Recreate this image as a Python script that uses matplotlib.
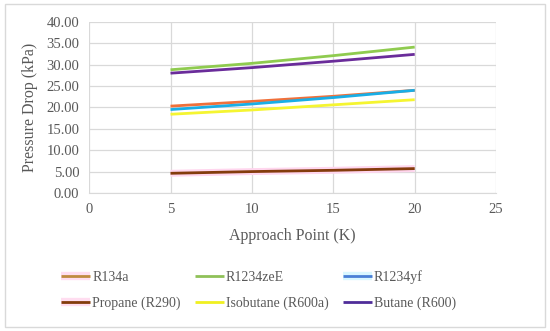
import matplotlib
matplotlib.use("Agg")
import matplotlib.pyplot as plt
import matplotlib.patheffects as pe
from matplotlib.patches import Rectangle
from matplotlib.lines import Line2D

approach = [5, 10, 15, 20]
r134a = [20.3, 21.4, 22.6, 24.0]
r1234zee = [28.8, 30.3, 32.1, 34.1]
r1234yf = [19.5, 20.8, 22.3, 24.0]
propane = [4.6, 5.0, 5.3, 5.7]
isobutane = [18.4, 19.4, 20.6, 21.8]
butane = [28.0, 29.3, 30.8, 32.4]

# name, values, line colour, legend colour, glow colour (plot), glow colour (legend)
series = [
    ("R134a", r134a, "#F0703A", "#C08A40", None, "#FFDDF0"),
    ("R1234zeE", r1234zee, "#8FCB4F", "#8FC158", None, None),
    ("R1234yf", r1234yf, "#19AEE6", "#4A80D6", None, "#D9F7FF"),
    ("Propane (R290)", propane, "#843C0C", "#843C0C", "#FFD6EE", "#FFDDF0"),
    ("Isobutane (R600a)", isobutane, "#F5F531", "#F0F020", None, None),
    ("Butane (R600)", butane, "#6A2C9A", "#4F2D99", None, None),
]

plt.rcParams['font.family'] = ['Liberation Serif', 'DejaVu Serif']

fig = plt.figure(figsize=(5.5, 3.31), dpi=100)
fig.patches.append(Rectangle((0.009, 0.012), 0.982, 0.976, transform=fig.transFigure,
                             fill=False, edgecolor='#D9D9D9', linewidth=1))
ax = fig.add_axes([0.162, 0.417, 0.74, 0.517])

handles = []
for name, vals, color, leg_color, glow, leg_glow in series:
    effects = []
    if glow:
        effects = [pe.Stroke(linewidth=5, foreground=glow), pe.Normal()]
    ax.plot(approach, vals, color=color, linewidth=2, path_effects=effects,
            solid_capstyle='butt')
    leg_effects = []
    if leg_glow:
        leg_effects = [pe.Stroke(linewidth=6, foreground=leg_glow), pe.Normal()]
    handles.append(Line2D([], [], color=leg_color, linewidth=2, label=name,
                          path_effects=leg_effects, solid_capstyle='butt'))

ax.set_xlim(0, 25)
ax.set_ylim(0, 40)
ax.set_xticks(range(0, 26, 5))
ax.set_yticks(range(0, 41, 5))
ax.yaxis.set_major_formatter(lambda v, p: f'{v:.2f}')
ax.set_axisbelow(True)
ax.grid(True, color='#D9D9D9', linewidth=0.9)
for s in ['top', 'right', 'left']:
    ax.spines[s].set_visible(False)
ax.spines['bottom'].set_color('#D9D9D9')
ax.tick_params(length=0, labelsize=10.5, colors='#595959', pad=7)

ax.set_xlabel('Approach Point (K)', fontsize=11.5, color='#595959', labelpad=9)
ax.set_ylabel('Pressure Drop (kPa)', fontsize=11.5, color='#595959', labelpad=6)

# legend fills column by column, reorder so it reads row by row
order = [0, 3, 1, 4, 2, 5]
fig.legend(handles=[handles[i] for i in order], loc='upper center',
           bbox_to_anchor=(0.47, 0.222), ncol=3, frameon=False,
           fontsize=10, labelcolor='#595959', handlelength=2.1, handletextpad=0.15,
           columnspacing=1.0, labelspacing=0.95)

fig.savefig('out.png', dpi=100)
